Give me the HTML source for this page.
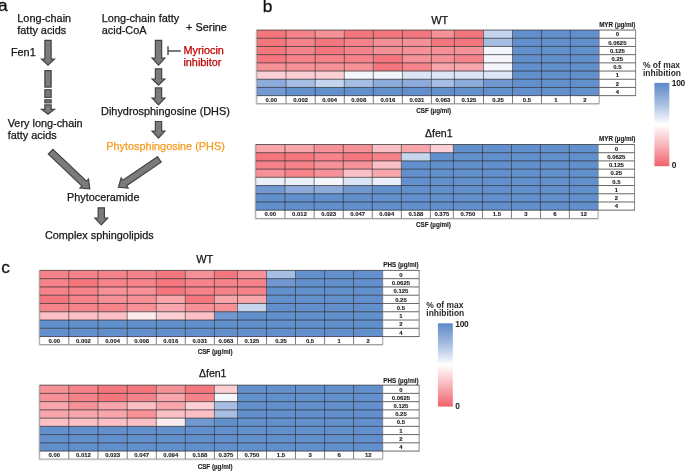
<!DOCTYPE html>
<html lang="en">
<head>
<meta charset="utf-8">
<title>Figure</title>
<style>
html,body{margin:0;padding:0;background:#fff;}
body{width:685px;height:472px;overflow:hidden;}
svg{display:block;font-family:"Liberation Sans",Arial,Helvetica,sans-serif;fill:#161616;}
.pl{font-size:17.3px;fill:#111;stroke:#111;stroke-width:0.3px;}
.ta{font-size:10.88px;stroke:#161616;stroke-width:0.25px;}
.ta text[fill="#c00000"]{stroke:#c00000;}.ta text[fill="#f89a1e"]{stroke:#f89a1e;}
.tt{font-size:11px;stroke:#161616;stroke-width:0.25px;}
.t5{font-size:5.95px;font-weight:bold;fill:#1c1c1c;stroke:#1c1c1c;stroke-width:0.12px;}
.t6{font-size:6.27px;font-weight:bold;fill:#1c1c1c;stroke:#1c1c1c;stroke-width:0.12px;}
.tl{font-size:8.45px;font-weight:bold;fill:#2a2a2a;}
.tn{font-size:8.4px;font-weight:bold;fill:#222;letter-spacing:-0.2px;}
</style>
</head>
<body>
<svg width="685" height="472" viewBox="0 0 685 472">
<defs><linearGradient id="cb" x1="0" y1="0" x2="0" y2="1"><stop offset="0" stop-color="#5b8ac8"/><stop offset="0.25" stop-color="#a6bde1"/><stop offset="0.5" stop-color="#ffffff"/><stop offset="0.75" stop-color="#f8b4b9"/><stop offset="1" stop-color="#f0616b"/></linearGradient></defs>
<rect width="685" height="472" fill="#fff"/>
<text class="pl" x="-2.1" y="11.4">a</text>
<text class="pl" x="262.8" y="11.7">b</text>
<text class="pl" x="1.3" y="272.8">c</text>
<g class="ta">
<text x="17.3" y="21.5">Long-chain</text>
<text x="17.3" y="33.8">fatty acids</text>
<text x="10.9" y="55.7">Fen1</text>
<text x="7.7" y="126.6">Very long-chain</text>
<text x="7.7" y="139.4">fatty acids</text>
<text x="101.8" y="21.5">Long-chain fatty</text>
<text x="101.8" y="34.0">acid-CoA</text>
<text x="186.1" y="30.6">+ Serine</text>
<text x="101.1" y="114.9">Dihydrosphingosine (DHS)</text>
<text x="66.9" y="201.0">Phytoceramide</text>
<text x="44.9" y="238.6">Complex sphingolipids</text>
<text x="183.4" y="53.7" fill="#c00000">Myriocin</text>
<text x="183.4" y="66.4" fill="#c00000">inhibitor</text>
<text x="106.3" y="150.0" fill="#f89a1e">Phytosphingosine (PHS)</text>
</g>
<g fill="#7b7b7b" stroke="#444" stroke-width="1.2" stroke-linejoin="miter">
<path d="M44.85 40.30H51.15V59.20H54.40L48.00 65.20L41.60 59.20H44.85Z"/>
<rect x="44.85" y="70.6" width="6.3" height="16.5"/>
<rect x="44.85" y="89.8" width="6.3" height="7.6"/>
<rect x="44.85" y="99.8" width="6.3" height="3.0"/>
<path d="M44.85 104.90H51.15V109.30H54.40L48.00 114.20L41.60 109.30H44.85Z"/>
<path d="M155.35 40.40H161.65V58.20H164.90L158.50 65.10L152.10 58.20H155.35Z"/>
<path d="M155.35 68.80H161.65V79.00H164.90L158.50 85.20L152.10 79.00H155.35Z"/>
<path d="M155.35 87.90H161.65V98.20H164.90L158.50 104.90L152.10 98.20H155.35Z"/>
<path d="M155.35 121.50H161.65V131.20H164.90L158.50 138.00L152.10 131.20H155.35Z"/>
<path d="M98.15 207.80H104.45V218.00H107.70L101.30 224.80L94.90 218.00H98.15Z"/>
<path d="M48.33 154.10L82.01 185.97L80.02 188.08L89.80 188.80L88.54 179.07L86.55 181.18L52.87 149.30Z"/>
<path d="M157.44 156.67L122.82 180.29L121.18 177.90L118.40 187.30L128.17 188.14L126.54 185.74L161.16 162.13Z"/>
</g>
<path d="M168.0 46.3V55.1M168.0 50.9H180.8" stroke="#505050" stroke-width="1.5" fill="none"/>
<g>
<rect x="256.80" y="30.05" width="342.40" height="73.60" fill="#fff"/>
<rect x="599.20" y="30.05" width="36.40" height="65.60" fill="#fff"/>
<rect x="256.80" y="30.05" width="29.20" height="8.25" fill="#f5777d"/>
<rect x="286.00" y="30.05" width="29.20" height="8.25" fill="#f58389"/>
<rect x="315.20" y="30.05" width="29.10" height="8.25" fill="#f69197"/>
<rect x="344.30" y="30.05" width="87.10" height="8.25" fill="#f5777d"/>
<rect x="431.40" y="30.05" width="23.00" height="8.25" fill="#f69197"/>
<rect x="454.40" y="30.05" width="29.10" height="8.25" fill="#f5777d"/>
<rect x="483.50" y="30.05" width="29.00" height="8.25" fill="#c6d5ee"/>
<rect x="512.50" y="30.05" width="86.70" height="8.25" fill="#6290cd"/>
<rect x="256.80" y="38.25" width="29.20" height="8.25" fill="#f5777d"/>
<rect x="286.00" y="38.25" width="29.20" height="8.25" fill="#f58389"/>
<rect x="315.20" y="38.25" width="29.10" height="8.25" fill="#f5777d"/>
<rect x="344.30" y="38.25" width="29.00" height="8.25" fill="#f58389"/>
<rect x="373.30" y="38.25" width="58.10" height="8.25" fill="#f69197"/>
<rect x="431.40" y="38.25" width="52.10" height="8.25" fill="#f5777d"/>
<rect x="483.50" y="38.25" width="29.00" height="8.25" fill="#a6bee3"/>
<rect x="512.50" y="38.25" width="86.70" height="8.25" fill="#6290cd"/>
<rect x="256.80" y="46.45" width="29.20" height="8.25" fill="#f5777d"/>
<rect x="286.00" y="46.45" width="29.20" height="8.25" fill="#f58389"/>
<rect x="315.20" y="46.45" width="29.10" height="8.25" fill="#f5777d"/>
<rect x="344.30" y="46.45" width="29.00" height="8.25" fill="#f58389"/>
<rect x="373.30" y="46.45" width="110.20" height="8.25" fill="#f69197"/>
<rect x="483.50" y="46.45" width="29.00" height="8.25" fill="#f4f6fc"/>
<rect x="512.50" y="46.45" width="86.70" height="8.25" fill="#6290cd"/>
<rect x="256.80" y="54.65" width="29.20" height="8.25" fill="#f5777d"/>
<rect x="286.00" y="54.65" width="87.30" height="8.25" fill="#f58389"/>
<rect x="373.30" y="54.65" width="29.10" height="8.25" fill="#f5777d"/>
<rect x="402.40" y="54.65" width="52.00" height="8.25" fill="#f69197"/>
<rect x="454.40" y="54.65" width="29.10" height="8.25" fill="#f58389"/>
<rect x="483.50" y="54.65" width="29.00" height="8.25" fill="#f4f6fc"/>
<rect x="512.50" y="54.65" width="86.70" height="8.25" fill="#6290cd"/>
<rect x="256.80" y="62.85" width="116.50" height="8.25" fill="#f69197"/>
<rect x="373.30" y="62.85" width="29.10" height="8.25" fill="#f5777d"/>
<rect x="402.40" y="62.85" width="29.00" height="8.25" fill="#f58389"/>
<rect x="431.40" y="62.85" width="52.10" height="8.25" fill="#f8a6ac"/>
<rect x="483.50" y="62.85" width="29.00" height="8.25" fill="#f4f6fc"/>
<rect x="512.50" y="62.85" width="86.70" height="8.25" fill="#6290cd"/>
<rect x="256.80" y="71.05" width="87.50" height="8.25" fill="#fbcfd4"/>
<rect x="344.30" y="71.05" width="58.10" height="8.25" fill="#f4f6fc"/>
<rect x="402.40" y="71.05" width="110.10" height="8.25" fill="#dce5f5"/>
<rect x="512.50" y="71.05" width="86.70" height="8.25" fill="#6290cd"/>
<rect x="256.80" y="79.25" width="29.20" height="8.25" fill="#8caada"/>
<rect x="286.00" y="79.25" width="29.20" height="8.25" fill="#a6bee3"/>
<rect x="315.20" y="79.25" width="29.10" height="8.25" fill="#c6d5ee"/>
<rect x="344.30" y="79.25" width="29.00" height="8.25" fill="#a6bee3"/>
<rect x="373.30" y="79.25" width="58.10" height="8.25" fill="#8caada"/>
<rect x="431.40" y="79.25" width="23.00" height="8.25" fill="#a6bee3"/>
<rect x="454.40" y="79.25" width="29.10" height="8.25" fill="#8caada"/>
<rect x="483.50" y="79.25" width="29.00" height="8.25" fill="#7198d1"/>
<rect x="512.50" y="79.25" width="86.70" height="8.25" fill="#6290cd"/>
<rect x="256.80" y="87.45" width="29.20" height="8.25" fill="#7198d1"/>
<rect x="286.00" y="87.45" width="313.20" height="8.25" fill="#6290cd"/>
<path d="M286.00 30.05V103.65M315.20 30.05V103.65M344.30 30.05V103.65M373.30 30.05V103.65M402.40 30.05V103.65M431.40 30.05V103.65M454.40 30.05V103.65M483.50 30.05V103.65M512.50 30.05V103.65M541.50 30.05V103.65M570.40 30.05V103.65" fill="none" stroke="#2a2a2e" stroke-width="0.8" stroke-opacity="0.75"/>
<path d="M256.50 30.05H635.60M256.50 38.25H635.60M256.50 46.45H635.60M256.50 54.65H635.60M256.50 62.85H635.60M256.50 71.05H635.60M256.50 79.25H635.60M256.50 87.45H635.60M256.50 95.65H635.60" fill="none" stroke="#26262a" stroke-width="0.88" stroke-opacity="0.8"/>
<path d="M256.80 30.05V103.65H599.20V95.65M599.20 30.05V95.65" fill="none" stroke="#6e6e6e" stroke-width="0.85" stroke-opacity="0.8"/>
<path d="M635.60 29.65V96.05" fill="none" stroke="#555" stroke-width="0.85" stroke-opacity="0.85"/>
<path d="M256.00 31.05V104.45H599.20" fill="none" stroke="#bbb" stroke-width="0.8" stroke-opacity="0.7"/>
<g class="t5" text-anchor="middle">
<text x="271.40" y="101.75">0.00</text>
<text x="300.60" y="101.75">0.002</text>
<text x="329.75" y="101.75">0.004</text>
<text x="358.80" y="101.75">0.008</text>
<text x="387.85" y="101.75">0.016</text>
<text x="416.90" y="101.75">0.031</text>
<text x="442.90" y="101.75">0.063</text>
<text x="468.95" y="101.75">0.125</text>
<text x="498.00" y="101.75">0.25</text>
<text x="527.00" y="101.75">0.5</text>
<text x="555.95" y="101.75">1</text>
<text x="584.80" y="101.75">2</text>
<text x="617.40" y="36.40">0</text>
<text x="617.40" y="44.60">0.0625</text>
<text x="617.40" y="52.80">0.125</text>
<text x="617.40" y="61.00">0.25</text>
<text x="617.40" y="69.20">0.5</text>
<text x="617.40" y="77.40">1</text>
<text x="617.40" y="85.60">2</text>
<text x="617.40" y="93.80">4</text>
</g>
<text class="t6" text-anchor="middle" x="617.30" y="27.00">MYR (µg/ml)</text>
<text class="t6" text-anchor="middle" x="433.70" y="113.40">CSF (µg/ml)</text>
<text class="tt" style="font-size:11.0px" text-anchor="middle" x="439.70" y="24.00">WT</text>
</g>
<g>
<rect x="255.75" y="144.50" width="342.40" height="73.98" fill="#fff"/>
<rect x="598.15" y="144.50" width="36.40" height="65.68" fill="#fff"/>
<rect x="255.75" y="144.50" width="58.40" height="8.26" fill="#f8a6ac"/>
<rect x="314.15" y="144.50" width="58.10" height="8.26" fill="#f69197"/>
<rect x="372.25" y="144.50" width="29.10" height="8.26" fill="#fbc0c6"/>
<rect x="401.35" y="144.50" width="29.00" height="8.26" fill="#f8a6ac"/>
<rect x="430.35" y="144.50" width="23.00" height="8.26" fill="#fbcfd4"/>
<rect x="453.35" y="144.50" width="144.80" height="8.26" fill="#6290cd"/>
<rect x="255.75" y="152.71" width="58.40" height="8.26" fill="#f5777d"/>
<rect x="314.15" y="152.71" width="29.10" height="8.26" fill="#f58389"/>
<rect x="343.25" y="152.71" width="29.00" height="8.26" fill="#f5777d"/>
<rect x="372.25" y="152.71" width="29.10" height="8.26" fill="#f58389"/>
<rect x="401.35" y="152.71" width="29.00" height="8.26" fill="#c6d5ee"/>
<rect x="430.35" y="152.71" width="167.80" height="8.26" fill="#6290cd"/>
<rect x="255.75" y="160.92" width="58.40" height="8.26" fill="#f58389"/>
<rect x="314.15" y="160.92" width="58.10" height="8.26" fill="#f69197"/>
<rect x="372.25" y="160.92" width="29.10" height="8.26" fill="#fbc0c6"/>
<rect x="401.35" y="160.92" width="196.80" height="8.26" fill="#6290cd"/>
<rect x="255.75" y="169.13" width="29.20" height="8.26" fill="#f69197"/>
<rect x="284.95" y="169.13" width="29.20" height="8.26" fill="#f58389"/>
<rect x="314.15" y="169.13" width="29.10" height="8.26" fill="#f69197"/>
<rect x="343.25" y="169.13" width="29.00" height="8.26" fill="#fbc0c6"/>
<rect x="372.25" y="169.13" width="29.10" height="8.26" fill="#f8a6ac"/>
<rect x="401.35" y="169.13" width="196.80" height="8.26" fill="#6290cd"/>
<rect x="255.75" y="177.34" width="58.40" height="8.26" fill="#eaeff9"/>
<rect x="314.15" y="177.34" width="29.10" height="8.26" fill="#f4f6fc"/>
<rect x="343.25" y="177.34" width="29.00" height="8.26" fill="#dce5f5"/>
<rect x="372.25" y="177.34" width="29.10" height="8.26" fill="#eaeff9"/>
<rect x="401.35" y="177.34" width="196.80" height="8.26" fill="#6290cd"/>
<rect x="255.75" y="185.55" width="29.20" height="8.26" fill="#7198d1"/>
<rect x="284.95" y="185.55" width="58.30" height="8.26" fill="#8caada"/>
<rect x="343.25" y="185.55" width="29.00" height="8.26" fill="#7198d1"/>
<rect x="372.25" y="185.55" width="225.90" height="8.26" fill="#6290cd"/>
<rect x="255.75" y="193.76" width="342.40" height="8.26" fill="#6290cd"/>
<rect x="255.75" y="201.97" width="342.40" height="8.26" fill="#6290cd"/>
<path d="M284.95 144.50V218.48M314.15 144.50V218.48M343.25 144.50V218.48M372.25 144.50V218.48M401.35 144.50V218.48M430.35 144.50V218.48M453.35 144.50V218.48M482.45 144.50V218.48M511.45 144.50V218.48M540.45 144.50V218.48M569.35 144.50V218.48" fill="none" stroke="#2a2a2e" stroke-width="0.8" stroke-opacity="0.75"/>
<path d="M255.45 144.50H634.55M255.45 152.71H634.55M255.45 160.92H634.55M255.45 169.13H634.55M255.45 177.34H634.55M255.45 185.55H634.55M255.45 193.76H634.55M255.45 201.97H634.55M255.45 210.18H634.55" fill="none" stroke="#26262a" stroke-width="0.88" stroke-opacity="0.8"/>
<path d="M255.75 144.50V218.48H598.15V210.18M598.15 144.50V210.18" fill="none" stroke="#6e6e6e" stroke-width="0.85" stroke-opacity="0.8"/>
<path d="M634.55 144.10V210.58" fill="none" stroke="#555" stroke-width="0.85" stroke-opacity="0.85"/>
<path d="M254.95 145.50V219.28H598.15" fill="none" stroke="#bbb" stroke-width="0.8" stroke-opacity="0.7"/>
<g class="t5" text-anchor="middle">
<text x="270.35" y="216.28">0.00</text>
<text x="299.55" y="216.28">0.012</text>
<text x="328.70" y="216.28">0.023</text>
<text x="357.75" y="216.28">0.047</text>
<text x="386.80" y="216.28">0.094</text>
<text x="415.85" y="216.28">0.188</text>
<text x="441.85" y="216.28">0.375</text>
<text x="467.90" y="216.28">0.750</text>
<text x="496.95" y="216.28">1.5</text>
<text x="525.95" y="216.28">3</text>
<text x="554.90" y="216.28">6</text>
<text x="583.75" y="216.28">12</text>
<text x="616.35" y="150.85">0</text>
<text x="616.35" y="159.06">0.0625</text>
<text x="616.35" y="167.27">0.125</text>
<text x="616.35" y="175.48">0.25</text>
<text x="616.35" y="183.69">0.5</text>
<text x="616.35" y="191.90">1</text>
<text x="616.35" y="200.11">2</text>
<text x="616.35" y="208.32">4</text>
</g>
<text class="t6" text-anchor="middle" x="617.20" y="141.20">MYR (µg/ml)</text>
<text class="t6" text-anchor="middle" x="433.40" y="227.40">CSF (µg/ml)</text>
<text class="tt" style="font-size:10.55px" text-anchor="middle" x="438.80" y="137.30">Δfen1</text>
</g>
<g>
<rect x="39.70" y="270.40" width="343.05" height="74.16" fill="#fff"/>
<rect x="382.75" y="270.40" width="36.40" height="66.16" fill="#fff"/>
<rect x="39.70" y="270.40" width="116.60" height="8.32" fill="#f58389"/>
<rect x="156.30" y="270.40" width="29.00" height="8.32" fill="#f5777d"/>
<rect x="185.30" y="270.40" width="29.10" height="8.32" fill="#f69197"/>
<rect x="214.40" y="270.40" width="23.10" height="8.32" fill="#f5777d"/>
<rect x="237.50" y="270.40" width="29.00" height="8.32" fill="#f69197"/>
<rect x="266.50" y="270.40" width="29.00" height="8.32" fill="#a6bee3"/>
<rect x="295.50" y="270.40" width="87.25" height="8.32" fill="#6290cd"/>
<rect x="39.70" y="278.67" width="29.10" height="8.32" fill="#f58389"/>
<rect x="68.80" y="278.67" width="29.20" height="8.32" fill="#f5777d"/>
<rect x="98.00" y="278.67" width="58.30" height="8.32" fill="#f58389"/>
<rect x="156.30" y="278.67" width="29.00" height="8.32" fill="#f5777d"/>
<rect x="185.30" y="278.67" width="81.20" height="8.32" fill="#f58389"/>
<rect x="266.50" y="278.67" width="29.00" height="8.32" fill="#7198d1"/>
<rect x="295.50" y="278.67" width="87.25" height="8.32" fill="#6290cd"/>
<rect x="39.70" y="286.94" width="58.30" height="8.32" fill="#f58389"/>
<rect x="98.00" y="286.94" width="58.30" height="8.32" fill="#f69197"/>
<rect x="156.30" y="286.94" width="29.00" height="8.32" fill="#f5777d"/>
<rect x="185.30" y="286.94" width="81.20" height="8.32" fill="#f58389"/>
<rect x="266.50" y="286.94" width="116.25" height="8.32" fill="#6290cd"/>
<rect x="39.70" y="295.21" width="29.10" height="8.32" fill="#f5777d"/>
<rect x="68.80" y="295.21" width="29.20" height="8.32" fill="#f58389"/>
<rect x="98.00" y="295.21" width="58.30" height="8.32" fill="#f69197"/>
<rect x="156.30" y="295.21" width="29.00" height="8.32" fill="#f8a6ac"/>
<rect x="185.30" y="295.21" width="29.10" height="8.32" fill="#f5777d"/>
<rect x="214.40" y="295.21" width="52.10" height="8.32" fill="#f8a6ac"/>
<rect x="266.50" y="295.21" width="116.25" height="8.32" fill="#6290cd"/>
<rect x="39.70" y="303.48" width="87.50" height="8.32" fill="#f58389"/>
<rect x="127.20" y="303.48" width="29.10" height="8.32" fill="#f69197"/>
<rect x="156.30" y="303.48" width="29.00" height="8.32" fill="#f8a6ac"/>
<rect x="185.30" y="303.48" width="52.20" height="8.32" fill="#f69197"/>
<rect x="237.50" y="303.48" width="29.00" height="8.32" fill="#c6d5ee"/>
<rect x="266.50" y="303.48" width="116.25" height="8.32" fill="#6290cd"/>
<rect x="39.70" y="311.75" width="87.50" height="8.32" fill="#fbc0c6"/>
<rect x="127.20" y="311.75" width="29.10" height="8.32" fill="#fdecee"/>
<rect x="156.30" y="311.75" width="29.00" height="8.32" fill="#fbcfd4"/>
<rect x="185.30" y="311.75" width="29.10" height="8.32" fill="#fbc0c6"/>
<rect x="214.40" y="311.75" width="23.10" height="8.32" fill="#7198d1"/>
<rect x="237.50" y="311.75" width="145.25" height="8.32" fill="#6290cd"/>
<rect x="39.70" y="320.02" width="343.05" height="8.32" fill="#6290cd"/>
<rect x="39.70" y="328.29" width="343.05" height="8.32" fill="#6290cd"/>
<path d="M68.80 270.40V344.56M98.00 270.40V344.56M127.20 270.40V344.56M156.30 270.40V344.56M185.30 270.40V344.56M214.40 270.40V344.56M237.50 270.40V344.56M266.50 270.40V344.56M295.50 270.40V344.56M324.60 270.40V344.56M353.60 270.40V344.56" fill="none" stroke="#2a2a2e" stroke-width="0.8" stroke-opacity="0.75"/>
<path d="M39.40 270.40H419.15M39.40 278.67H419.15M39.40 286.94H419.15M39.40 295.21H419.15M39.40 303.48H419.15M39.40 311.75H419.15M39.40 320.02H419.15M39.40 328.29H419.15M39.40 336.56H419.15" fill="none" stroke="#26262a" stroke-width="0.88" stroke-opacity="0.8"/>
<path d="M39.70 270.40V344.56H382.75V336.56M382.75 270.40V336.56" fill="none" stroke="#6e6e6e" stroke-width="0.85" stroke-opacity="0.8"/>
<path d="M419.15 270.00V336.96" fill="none" stroke="#555" stroke-width="0.85" stroke-opacity="0.85"/>
<path d="M38.90 271.40V345.36H382.75" fill="none" stroke="#bbb" stroke-width="0.8" stroke-opacity="0.7"/>
<g class="t5" text-anchor="middle">
<text x="54.25" y="342.66">0.00</text>
<text x="83.40" y="342.66">0.002</text>
<text x="112.60" y="342.66">0.004</text>
<text x="141.75" y="342.66">0.008</text>
<text x="170.80" y="342.66">0.016</text>
<text x="199.85" y="342.66">0.031</text>
<text x="225.95" y="342.66">0.063</text>
<text x="252.00" y="342.66">0.125</text>
<text x="281.00" y="342.66">0.25</text>
<text x="310.05" y="342.66">0.5</text>
<text x="339.10" y="342.66">1</text>
<text x="368.18" y="342.66">2</text>
<text x="400.95" y="276.75">0</text>
<text x="400.95" y="285.02">0.0625</text>
<text x="400.95" y="293.29">0.125</text>
<text x="400.95" y="301.56">0.25</text>
<text x="400.95" y="309.83">0.5</text>
<text x="400.95" y="318.10">1</text>
<text x="400.95" y="326.37">2</text>
<text x="400.95" y="334.64">4</text>
</g>
<text class="t6" text-anchor="middle" x="401.00" y="267.40">PHS (µg/ml)</text>
<text class="t6" text-anchor="middle" x="215.10" y="354.20">CSF (µg/ml)</text>
<text class="tt" style="font-size:11.0px" text-anchor="middle" x="204.70" y="262.70">WT</text>
</g>
<g>
<rect x="39.70" y="385.15" width="343.05" height="73.92" fill="#fff"/>
<rect x="382.75" y="385.15" width="36.40" height="65.92" fill="#fff"/>
<rect x="39.70" y="385.15" width="29.10" height="8.29" fill="#f69197"/>
<rect x="68.80" y="385.15" width="29.20" height="8.29" fill="#f58389"/>
<rect x="98.00" y="385.15" width="58.30" height="8.29" fill="#f5777d"/>
<rect x="156.30" y="385.15" width="29.00" height="8.29" fill="#f69197"/>
<rect x="185.30" y="385.15" width="29.10" height="8.29" fill="#f5777d"/>
<rect x="214.40" y="385.15" width="23.10" height="8.29" fill="#fbcfd4"/>
<rect x="237.50" y="385.15" width="145.25" height="8.29" fill="#6290cd"/>
<rect x="39.70" y="393.39" width="29.10" height="8.29" fill="#f69197"/>
<rect x="68.80" y="393.39" width="29.20" height="8.29" fill="#f58389"/>
<rect x="98.00" y="393.39" width="29.20" height="8.29" fill="#f5777d"/>
<rect x="127.20" y="393.39" width="29.10" height="8.29" fill="#f58389"/>
<rect x="156.30" y="393.39" width="29.00" height="8.29" fill="#f8a6ac"/>
<rect x="185.30" y="393.39" width="29.10" height="8.29" fill="#f58389"/>
<rect x="214.40" y="393.39" width="23.10" height="8.29" fill="#f4f6fc"/>
<rect x="237.50" y="393.39" width="145.25" height="8.29" fill="#6290cd"/>
<rect x="39.70" y="401.63" width="29.10" height="8.29" fill="#f8a6ac"/>
<rect x="68.80" y="401.63" width="29.20" height="8.29" fill="#f69197"/>
<rect x="98.00" y="401.63" width="29.20" height="8.29" fill="#f8a6ac"/>
<rect x="127.20" y="401.63" width="29.10" height="8.29" fill="#fbc0c6"/>
<rect x="156.30" y="401.63" width="29.00" height="8.29" fill="#f8a6ac"/>
<rect x="185.30" y="401.63" width="29.10" height="8.29" fill="#fbcfd4"/>
<rect x="214.40" y="401.63" width="23.10" height="8.29" fill="#a6bee3"/>
<rect x="237.50" y="401.63" width="145.25" height="8.29" fill="#6290cd"/>
<rect x="39.70" y="409.87" width="87.50" height="8.29" fill="#f8a6ac"/>
<rect x="127.20" y="409.87" width="29.10" height="8.29" fill="#f69197"/>
<rect x="156.30" y="409.87" width="58.10" height="8.29" fill="#fbc0c6"/>
<rect x="214.40" y="409.87" width="23.10" height="8.29" fill="#a6bee3"/>
<rect x="237.50" y="409.87" width="145.25" height="8.29" fill="#6290cd"/>
<rect x="39.70" y="418.11" width="116.60" height="8.29" fill="#fbc0c6"/>
<rect x="156.30" y="418.11" width="29.00" height="8.29" fill="#fdecee"/>
<rect x="185.30" y="418.11" width="29.10" height="8.29" fill="#7198d1"/>
<rect x="214.40" y="418.11" width="168.35" height="8.29" fill="#6290cd"/>
<rect x="39.70" y="426.35" width="343.05" height="8.29" fill="#6290cd"/>
<rect x="39.70" y="434.59" width="343.05" height="8.29" fill="#6290cd"/>
<rect x="39.70" y="442.83" width="343.05" height="8.29" fill="#6290cd"/>
<path d="M68.80 385.15V459.07M98.00 385.15V459.07M127.20 385.15V459.07M156.30 385.15V459.07M185.30 385.15V459.07M214.40 385.15V459.07M237.50 385.15V459.07M266.50 385.15V459.07M295.50 385.15V459.07M324.60 385.15V459.07M353.60 385.15V459.07" fill="none" stroke="#2a2a2e" stroke-width="0.8" stroke-opacity="0.75"/>
<path d="M39.40 385.15H419.15M39.40 393.39H419.15M39.40 401.63H419.15M39.40 409.87H419.15M39.40 418.11H419.15M39.40 426.35H419.15M39.40 434.59H419.15M39.40 442.83H419.15M39.40 451.07H419.15" fill="none" stroke="#26262a" stroke-width="0.88" stroke-opacity="0.8"/>
<path d="M39.70 385.15V459.07H382.75V451.07M382.75 385.15V451.07" fill="none" stroke="#6e6e6e" stroke-width="0.85" stroke-opacity="0.8"/>
<path d="M419.15 384.75V451.47" fill="none" stroke="#555" stroke-width="0.85" stroke-opacity="0.85"/>
<path d="M38.90 386.15V459.87H382.75" fill="none" stroke="#bbb" stroke-width="0.8" stroke-opacity="0.7"/>
<g class="t5" text-anchor="middle">
<text x="54.25" y="457.17">0.00</text>
<text x="83.40" y="457.17">0.012</text>
<text x="112.60" y="457.17">0.023</text>
<text x="141.75" y="457.17">0.047</text>
<text x="170.80" y="457.17">0.094</text>
<text x="199.85" y="457.17">0.188</text>
<text x="225.95" y="457.17">0.375</text>
<text x="252.00" y="457.17">0.750</text>
<text x="281.00" y="457.17">1.5</text>
<text x="310.05" y="457.17">3</text>
<text x="339.10" y="457.17">6</text>
<text x="368.18" y="457.17">12</text>
<text x="400.95" y="391.50">0</text>
<text x="400.95" y="399.74">0.0625</text>
<text x="400.95" y="407.98">0.125</text>
<text x="400.95" y="416.22">0.25</text>
<text x="400.95" y="424.46">0.5</text>
<text x="400.95" y="432.70">1</text>
<text x="400.95" y="440.94">2</text>
<text x="400.95" y="449.18">4</text>
</g>
<text class="t6" text-anchor="middle" x="401.00" y="382.60">PHS (µg/ml)</text>
<text class="t6" text-anchor="middle" x="215.10" y="469.10">CSF (µg/ml)</text>
<text class="tt" style="font-size:10.55px" text-anchor="middle" x="212.70" y="377.30">Δfen1</text>
</g>
<text class="tl" x="643.00" y="67.60">% of max</text>
<text class="tl" x="643.00" y="75.90">inhibition</text>
<rect x="654.40" y="82.90" width="14.90" height="83.30" fill="url(#cb)"/>
<text class="tn" x="671.70" y="86.00">100</text>
<text class="tn" x="671.70" y="168.20">0</text>
<text class="tl" x="426.30" y="307.60">% of max</text>
<text class="tl" x="426.30" y="315.90">inhibition</text>
<rect x="437.90" y="323.30" width="14.90" height="83.30" fill="url(#cb)"/>
<text class="tn" x="455.20" y="327.00">100</text>
<text class="tn" x="455.20" y="408.60">0</text>
</svg>
</body>
</html>
